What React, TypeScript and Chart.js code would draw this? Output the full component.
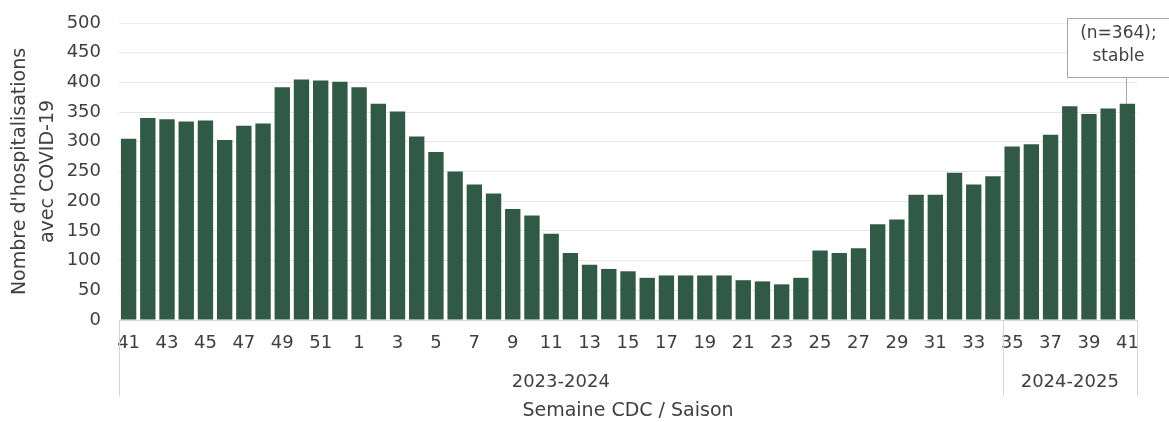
import React, { useEffect, useRef } from "react";
import { Chart, registerables } from "chart.js";

Chart.register(...registerables);

const weekLabels: string[] = [
  "41", "42", "43", "44", "45", "46", "47", "48", "49", "50", "51", "52",
  "1", "2", "3", "4", "5", "6", "7", "8", "9", "10", "11", "12", "13", "14", "15", "16", "17",
  "18", "19", "20", "21", "22", "23", "24", "25", "26", "27", "28", "29", "30", "31", "32", "33", "34",
  "35", "36", "37", "38", "39", "40", "41",
];

const hospitalisations: number[] = [
  305, 340, 338, 334, 336, 303, 327, 331, 392, 405, 403, 401,
  392, 364, 351, 309, 283, 250, 228, 213, 187, 176, 145, 113, 93, 86, 82, 71, 75,
  75, 75, 75, 67, 65, 60, 71, 117, 113, 121, 161, 169, 211, 211, 248, 228, 242,
  292, 296, 312, 360, 347, 356, 364,
];

const seasonLabels: string[] = ["2023-2024", "2024-2025"];
const seasonCounts: number[] = [46, 7];

const annotationLines: string[] = ["(n=364);", "stable"];

const yTitle: string[] = ["Nombre d'hospitalisations", "avec COVID-19"];
const xTitle = "Semaine CDC / Saison";

const FONT = "'DejaVu Sans', sans-serif";
const TEXT = "#404040";
const BAR = "#305a45";
const LINE = "#d4d4d4";

const seasonPlugin = {
  id: "seasons",
  afterDraw(chart: any) {
    const { ctx, chartArea, scales } = chart;
    const x = scales.x;
    const bottom = chartArea.bottom;
    const bounds: number[] = [chartArea.left];
    let acc = 0;
    seasonCounts.forEach((c) => {
      acc += c;
      if (acc >= weekLabels.length) bounds.push(chartArea.right);
      else bounds.push((x.getPixelForValue(acc - 1) + x.getPixelForValue(acc)) / 2);
    });
    ctx.save();
    ctx.strokeStyle = LINE;
    ctx.lineWidth = 1;
    bounds.forEach((b) => {
      const px = Math.round(b) + 0.5;
      ctx.beginPath();
      ctx.moveTo(px, bottom);
      ctx.lineTo(px, bottom + 76);
      ctx.stroke();
    });
    ctx.fillStyle = TEXT;
    ctx.font = `18px ${FONT}`;
    ctx.textAlign = "center";
    ctx.textBaseline = "middle";
    seasonLabels.forEach((s, i) => {
      ctx.fillText(s, (bounds[i] + bounds[i + 1]) / 2, bottom + 62);
    });
    ctx.restore();
  },
};

const annotationPlugin = {
  id: "lastAnnotation",
  afterDatasetsDraw(chart: any) {
    const { ctx, chartArea } = chart;
    const meta = chart.getDatasetMeta(0);
    const bar = meta.data[meta.data.length - 1];
    if (!bar) return;
    const bx = bar.x;
    const boxLeft = bx - 60;
    const boxRight = chart.width + 2;
    const boxTop = chartArea.top - 5;
    const boxBottom = chartArea.top + 54;
    ctx.save();
    ctx.strokeStyle = "#a6a6a6";
    ctx.lineWidth = 1;
    ctx.beginPath();
    ctx.moveTo(Math.round(bx) - 0.5, boxBottom);
    ctx.lineTo(Math.round(bx) - 0.5, bar.y);
    ctx.stroke();
    ctx.fillStyle = "#ffffff";
    ctx.fillRect(boxLeft, boxTop, boxRight - boxLeft, boxBottom - boxTop);
    ctx.strokeRect(Math.round(boxLeft) + 0.5, boxTop + 0.5, boxRight - boxLeft, boxBottom - boxTop);
    ctx.fillStyle = TEXT;
    ctx.font = `17px ${FONT}`;
    ctx.textAlign = "center";
    ctx.textBaseline = "middle";
    const cx = boxLeft + 51;
    annotationLines.forEach((t, i) => {
      ctx.fillText(t, cx, boxTop + 16 + i * 23);
    });
    ctx.restore();
  },
};

export default function App() {
  const canvasRef = useRef<HTMLCanvasElement | null>(null);

  useEffect(() => {
    if (!canvasRef.current) return;
    const chart = new Chart(canvasRef.current, {
      type: "bar",
      data: {
        labels: weekLabels,
        datasets: [
          {
            data: hospitalisations,
            backgroundColor: BAR,
            borderWidth: 0,
            barPercentage: 0.8,
            categoryPercentage: 1,
          },
        ],
      },
      options: {
        animation: false,
        responsive: true,
        maintainAspectRatio: false,
        layout: { padding: { top: 23, right: 32, left: 0, bottom: 0 } },
        plugins: {
          legend: { display: false },
          tooltip: { enabled: false },
        },
        scales: {
          x: {
            afterFit: (scale: any) => {
              scale.height = 102;
              scale.paddingLeft = 0;
              scale.paddingRight = 0;
            },
            grid: { display: false, drawTicks: false },
            border: { display: true, color: LINE, width: 1 },
            ticks: {
              autoSkip: false,
              maxRotation: 0,
              minRotation: 0,
              padding: 13,
              color: TEXT,
              font: { family: FONT, size: 18 },
              callback: (_v: any, idx: number) => (idx % 2 === 0 ? weekLabels[idx] : ""),
            },
            title: {
              display: true,
              text: xTitle,
              color: TEXT,
              font: { family: FONT, size: 19 },
              padding: { top: 0, bottom: 0 },
            },
          },
          y: {
            min: 0,
            max: 500,
            afterFit: (scale: any) => {
              scale.width = 119;
              scale.paddingTop = 10;
              scale.paddingBottom = 10;
            },
            grid: {
              drawTicks: false,
              color: (c: any) => (c.tick && c.tick.value === 500 ? "#ececec" : "#e6e6e6"),
            },
            border: { display: false },
            ticks: {
              stepSize: 50,
              padding: 18,
              color: TEXT,
              font: { family: FONT, size: 18 },
            },
            title: {
              display: true,
              text: yTitle,
              color: TEXT,
              font: { family: FONT, size: 19, lineHeight: 1.47 },
              padding: { top: 6, bottom: 0 },
            },
          },
        },
      },
      plugins: [seasonPlugin, annotationPlugin],
    });
    return () => chart.destroy();
  }, []);

  return (
    <div style={{ position: "fixed", left: 0, top: 0, width: 1169, height: 422, background: "#fff" }}>
      <canvas ref={canvasRef} />
    </div>
  );
}
